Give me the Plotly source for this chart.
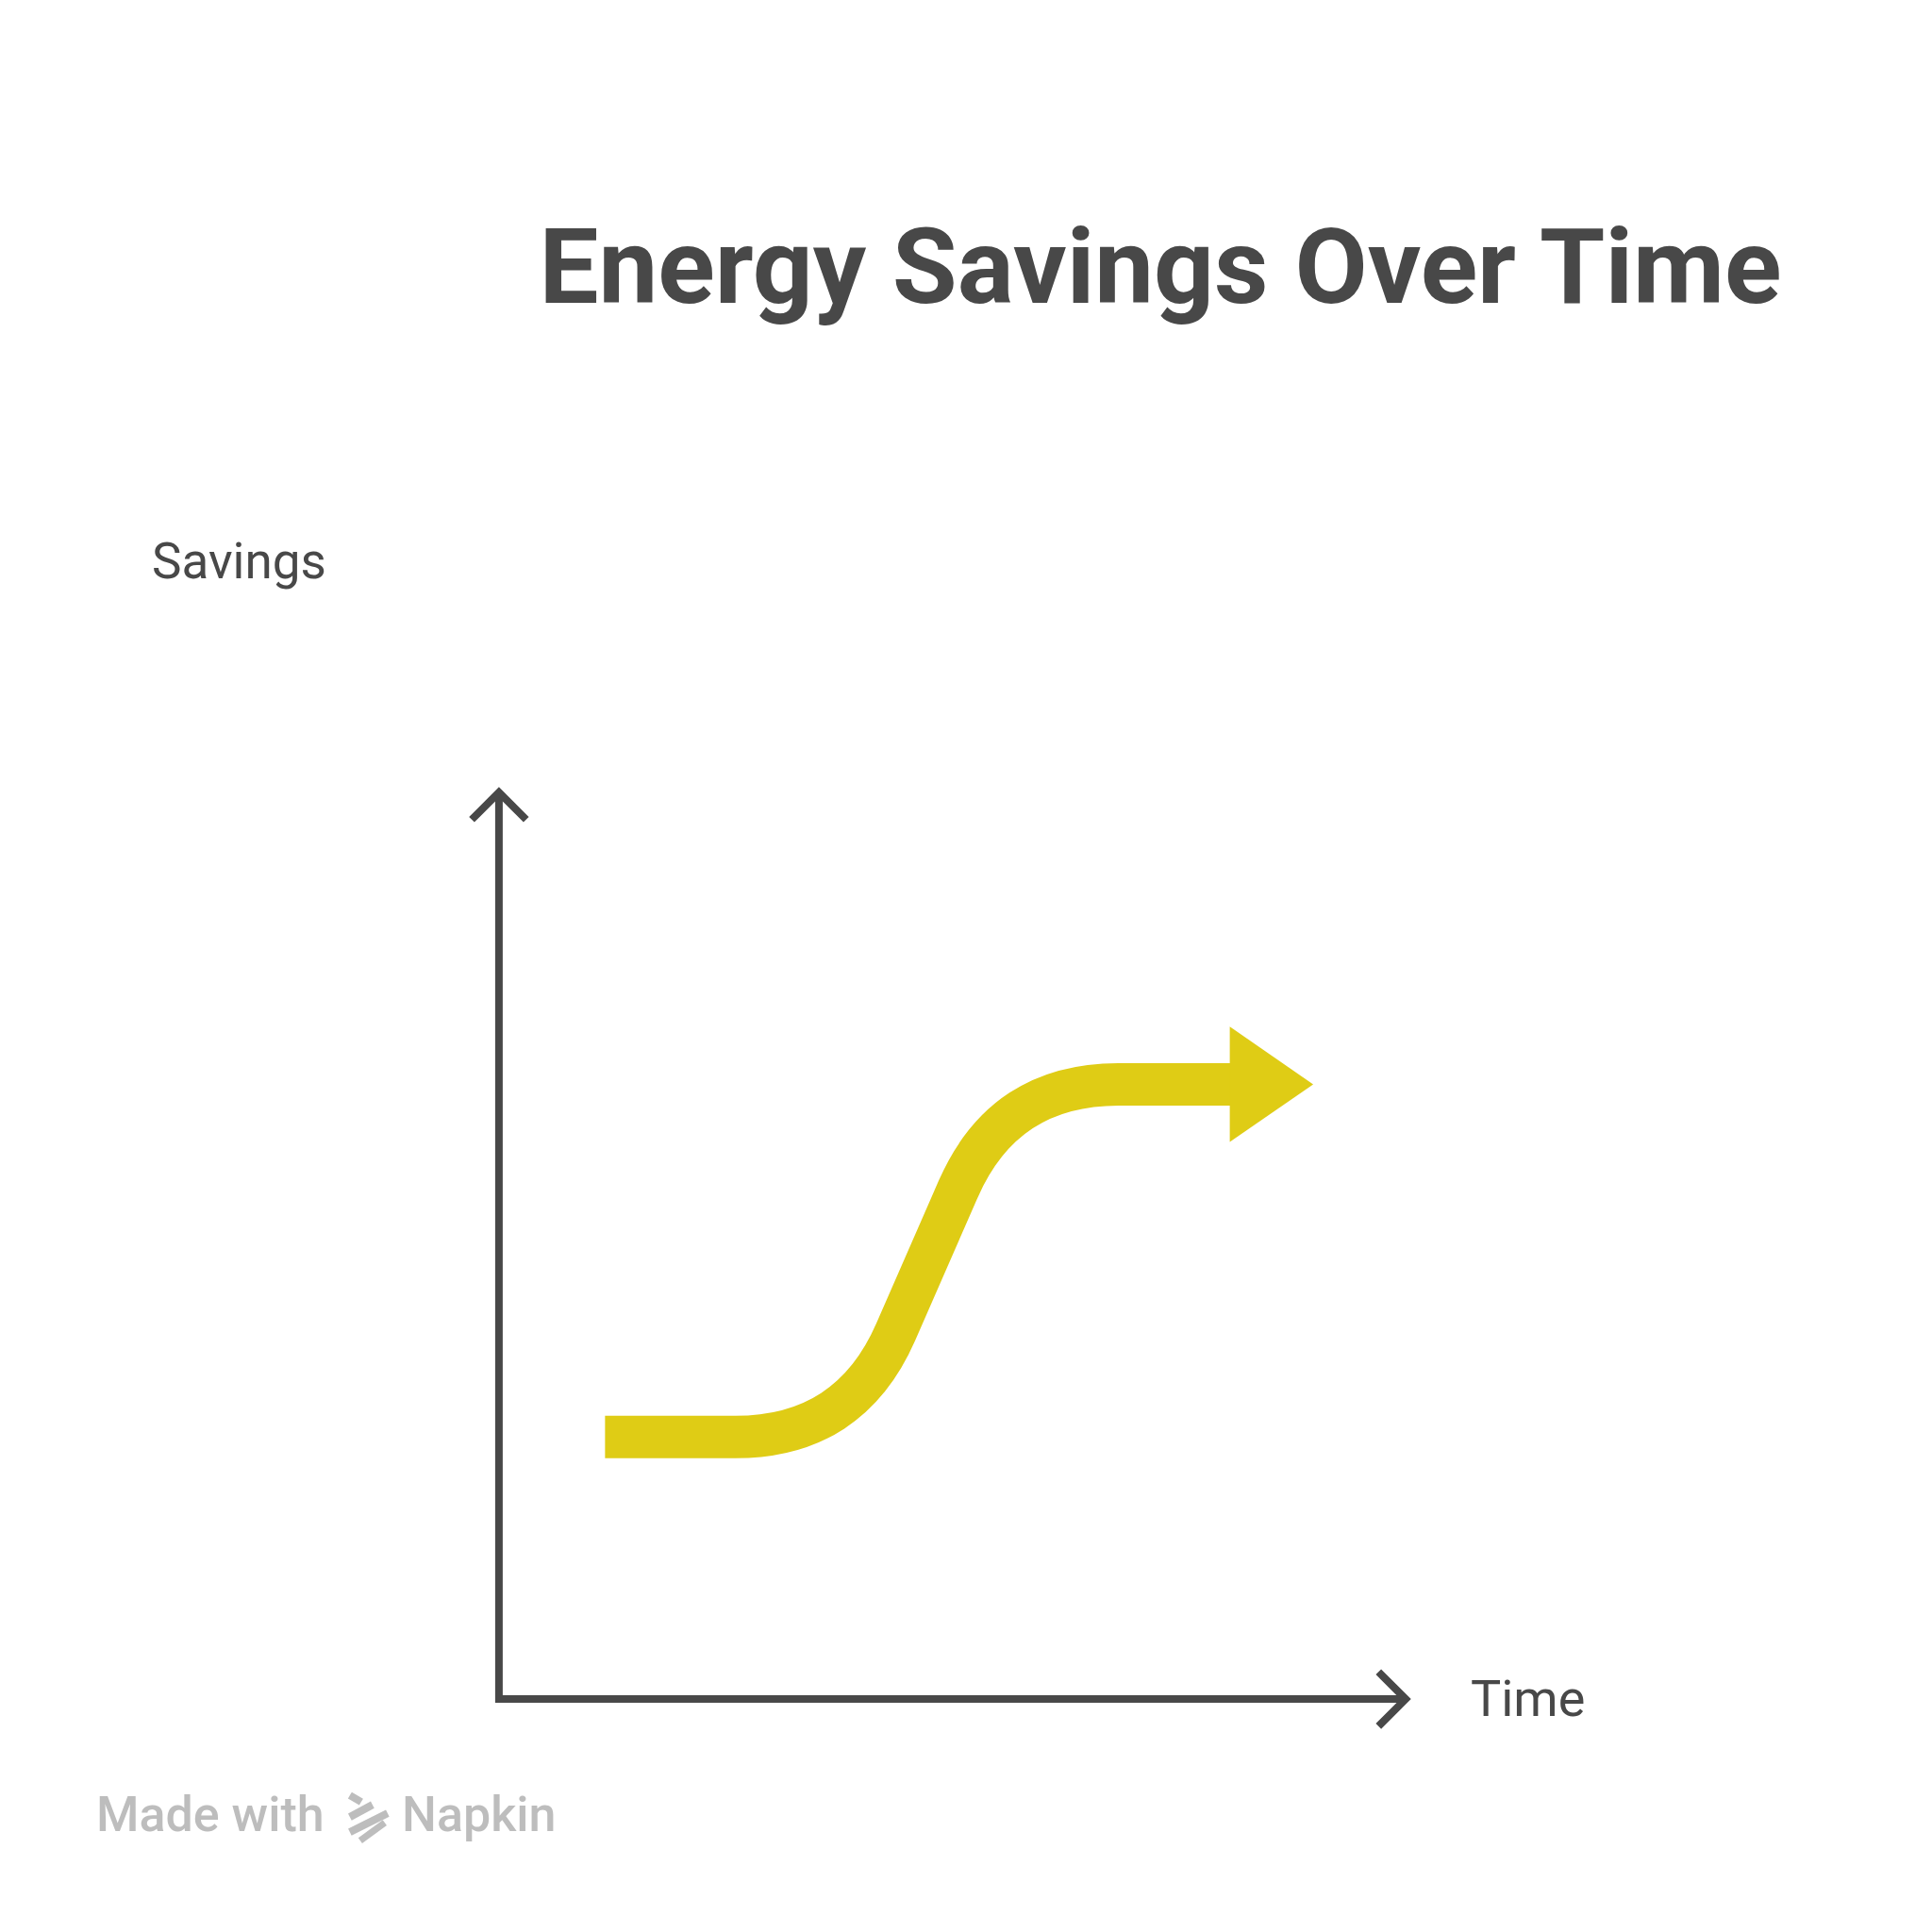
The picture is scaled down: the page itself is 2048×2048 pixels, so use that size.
import plotly.graph_objects as go

# ---- data ----
time_pts = [1.17, 3.87, 5.57, 8.06]      # polyline corners of the savings path (time axis)
savings_pts = [2.89, 2.89, 6.78, 6.78]   # savings level at those corners
arrow_tip_time = 8.98
title_text = "Energy Savings Over Time"
x_label = "Time"
y_label = "Savings"

# ---- style ----
W = H = 2048
OFF = 8                      # default page body margin
X0_PX, X1_PX = 529, 1490     # axis origin / end in target pixels
Y0_PX, Y1_PX = 1801, 840
DARK = "#484848"
YELLOW = "#DFCC15"
BAND_W = 45
AXIS_W = 8
CORNER = 1.26            # corner rounding (data units)
HEAD_HALF = 0.635        # arrowhead half-height (data units)
CHEV_DX, CHEV_DY = 0.30, 0.30

XR = (0, 10)
YR = (0, 10)
PAD = 0.8
SX = (X1_PX - X0_PX) / (XR[1] - XR[0])
SY = (Y0_PX - Y1_PX) / (YR[1] - YR[0])

ML = (X0_PX - OFF) - PAD * SX
MR = W - ((X1_PX - OFF) + PAD * SX)
MT = (Y1_PX - OFF) - PAD * SY
MB = H - ((Y0_PX - OFF) + PAD * SY)
PW = W - ML - MR
PH = H - MT - MB


def paper_x(px):
    return (px - OFF - ML) / PW


def paper_y(py):
    return (H - MB - (py - OFF)) / PH


def unit(ax, ay, bx, by):
    dx, dy = bx - ax, by - ay
    L = (dx * dx + dy * dy) ** 0.5
    return dx / L, dy / L


# rounded path through the polyline corners (quadratic bezier at each corner)
pts = list(zip(time_pts, savings_pts))
path = f"M {pts[0][0]},{pts[0][1]}"
for i in range(1, len(pts) - 1):
    px_, py_ = pts[i]
    ux1, uy1 = unit(*pts[i - 1], px_, py_)
    ux2, uy2 = unit(px_, py_, *pts[i + 1])
    a = (px_ - ux1 * CORNER, py_ - uy1 * CORNER)
    b = (px_ + ux2 * CORNER, py_ + uy2 * CORNER)
    path += f" L {a[0]},{a[1]} Q {px_},{py_} {b[0]},{b[1]}"
path += f" L {pts[-1][0] + 0.05},{pts[-1][1]}"

base_x, base_y = pts[-1]
head = (f"M {base_x},{base_y + HEAD_HALF} L {arrow_tip_time},{base_y} "
        f"L {base_x},{base_y - HEAD_HALF} Z")

shapes = [
    # axes
    dict(type="path", xref="x", yref="y",
         path=f"M {XR[0]},{YR[1]} L {XR[0]},{YR[0]} L {XR[1]},{YR[0]}",
         line=dict(color=DARK, width=AXIS_W)),
    dict(type="path", xref="x", yref="y",
         path=f"M {XR[0]-CHEV_DX},{YR[1]-CHEV_DY} L {XR[0]},{YR[1]} L {XR[0]+CHEV_DX},{YR[1]-CHEV_DY}",
         line=dict(color=DARK, width=AXIS_W)),
    dict(type="path", xref="x", yref="y",
         path=f"M {XR[1]-CHEV_DX},{YR[0]+CHEV_DY} L {XR[1]},{YR[0]} L {XR[1]-CHEV_DX},{YR[0]-CHEV_DY}",
         line=dict(color=DARK, width=AXIS_W)),
    # savings band
    dict(type="path", xref="x", yref="y", path=path,
         line=dict(color=YELLOW, width=BAND_W)),
    dict(type="path", xref="x", yref="y", path=head,
         fillcolor=YELLOW, line=dict(width=0)),
]

# Napkin logo (small gray strokes)
LOGO = "#BDBDBD"
for (xa, ya, xb, yb, w) in [(371, 1903, 383, 1910, 8), (371, 1926, 395, 1913, 8),
                            (371, 1942, 411, 1922, 8), (382, 1951, 408, 1932, 7)]:
    shapes.append(dict(type="line", xref="paper", yref="paper",
                       x0=paper_x(xa), y0=paper_y(ya), x1=paper_x(xb), y1=paper_y(yb),
                       line=dict(color=LOGO, width=w)))

fig = go.Figure()
fig.add_trace(go.Scatter(x=time_pts, y=savings_pts, mode="lines",
                         line=dict(color="rgba(0,0,0,0)", width=1),
                         hoverinfo="x+y", showlegend=False))

annotations = [
    dict(text=y_label, xref="paper", yref="paper", x=paper_x(159), y=paper_y(595),
         xanchor="left", yanchor="middle", showarrow=False,
         font=dict(family="Roboto", size=53, color=DARK)),
    dict(text=x_label, xref="paper", yref="paper", x=paper_x(1557), y=paper_y(1800),
         xanchor="left", yanchor="middle", showarrow=False,
         font=dict(family="Roboto", size=54, color=DARK)),
    dict(text="Made with", xref="paper", yref="paper", x=paper_x(100), y=paper_y(1923),
         xanchor="left", yanchor="middle", showarrow=False,
         font=dict(family="Roboto", size=52, color=LOGO, weight=500)),
    dict(text="Napkin", xref="paper", yref="paper", x=paper_x(424), y=paper_y(1923),
         xanchor="left", yanchor="middle", showarrow=False,
         font=dict(family="Roboto", size=52, color=LOGO, weight=500)),
]

fig.update_layout(
    width=W, height=H, autosize=False,
    margin=dict(l=ML, r=MR, t=MT, b=MB, pad=0),
    paper_bgcolor="white", plot_bgcolor="white",
    title=dict(text=title_text, x=(1230 - OFF) / W, xref="container", xanchor="center",
               y=1 - (282 - OFF) / H, yref="container", yanchor="middle",
               font=dict(family="Roboto", size=112, color=DARK, weight=700)),
    xaxis=dict(range=[XR[0] - PAD, XR[1] + PAD], visible=False, fixedrange=True),
    yaxis=dict(range=[YR[0] - PAD, YR[1] + PAD], visible=False, fixedrange=True),
    shapes=shapes,
    annotations=annotations,
    showlegend=False,
)

fig.write_html("out.html")
